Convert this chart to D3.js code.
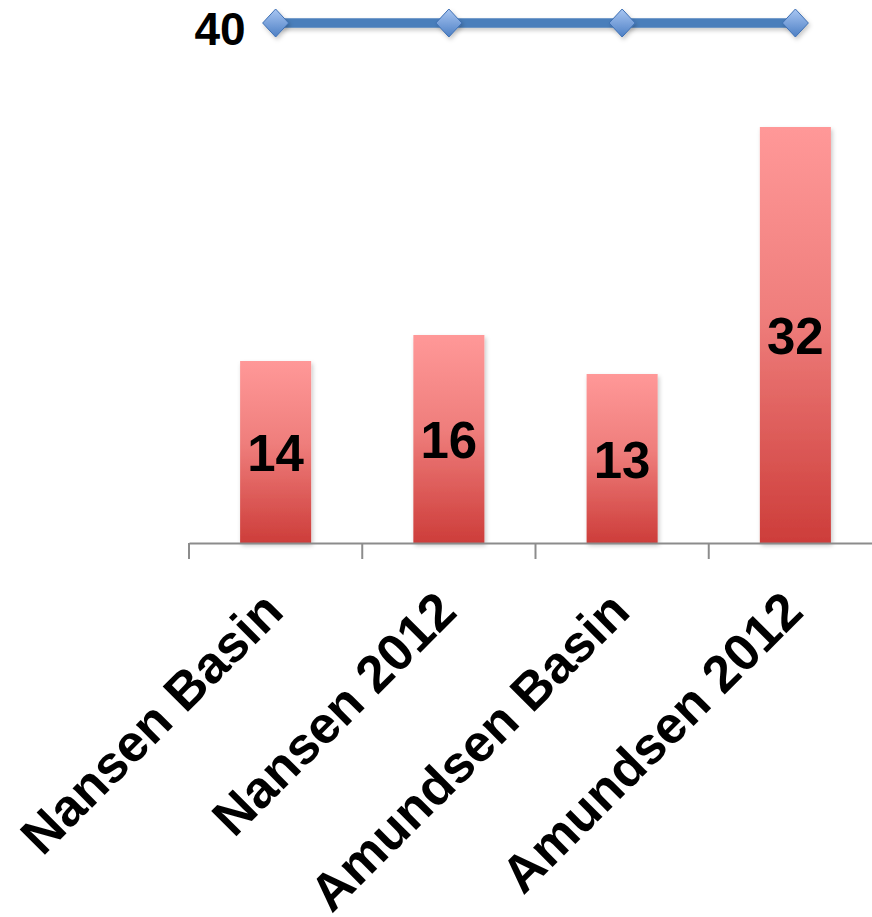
<!DOCTYPE html>
<html>
<head>
<meta charset="utf-8">
<script src="https://cdn.jsdelivr.net/npm/d3@7"></script>
<style>
  html, body { margin: 0; padding: 0; background: #fff; }
  svg { display: block; }
  text { font-family: "Liberation Sans", Arial, sans-serif; font-weight: bold; fill: #000; }
</style>
</head>
<body>
<script>
const categories = ["Nansen Basin", "Nansen 2012", "Amundsen Basin", "Amundsen 2012"];
const barValues = [14, 16, 13, 32];
const lineValues = [40, 40, 40, 40];
const lineLabel = "40";

const W = 872, H = 917;
const svg = d3.select("body").append("svg").attr("width", W).attr("height", H);

const defs = svg.append("defs");
const grad = defs.append("linearGradient").attr("id", "barGrad")
  .attr("x1", 0).attr("y1", 0).attr("x2", 0).attr("y2", 1);
grad.append("stop").attr("offset", "0%").attr("stop-color", "#ff9898");
grad.append("stop").attr("offset", "45%").attr("stop-color", "#ef7e7c");
grad.append("stop").attr("offset", "100%").attr("stop-color", "#cd3d3a");

const dgrad = defs.append("linearGradient").attr("id", "diaGrad")
  .attr("x1", 0).attr("y1", 0).attr("x2", 0).attr("y2", 1);
dgrad.append("stop").attr("offset", "0%").attr("stop-color", "#a9c6f2");
dgrad.append("stop").attr("offset", "100%").attr("stop-color", "#4c7fc4");

const shadow = defs.append("filter").attr("id", "shadow")
  .attr("filterUnits", "userSpaceOnUse")
  .attr("x", -W).attr("y", -H).attr("width", 3 * W).attr("height", 3 * H);
shadow.append("feDropShadow").attr("dx", 1.5).attr("dy", 2.5).attr("stdDeviation", 2)
  .attr("flood-color", "#000").attr("flood-opacity", 0.22);

const x = d3.scaleBand().domain(categories).range([189, 882]).padding(0);
const y = d3.scaleLinear().domain([0, 40]).range([543, 23]);
const barW = x.bandwidth() * 0.41;
const cx = d => x(d) + x.bandwidth() / 2;

// bars
svg.append("g").selectAll("rect").data(categories).join("rect")
  .attr("x", d => cx(d) - barW / 2)
  .attr("y", (d, i) => y(barValues[i]))
  .attr("width", barW)
  .attr("height", (d, i) => y(0) - y(barValues[i]))
  .attr("fill", "url(#barGrad)")
  .attr("filter", "url(#shadow)");

// axis
const axis = d3.axisBottom(x).tickSize(16).tickFormat("").tickSizeOuter(0);
const gAxis = svg.append("g").attr("transform", `translate(0,${y(0)})`).call(axis);
gAxis.select(".domain").attr("stroke", "#8c8c8c").attr("stroke-width", 2);
gAxis.selectAll(".tick").attr("transform", d => `translate(${x(d)},0)`);
gAxis.selectAll(".tick line").attr("stroke", "#8c8c8c").attr("stroke-width", 2);
gAxis.selectAll(".tick text").remove();

// value labels
svg.append("g").selectAll("text").data(categories).join("text")
  .attr("x", d => cx(d))
  .attr("y", (d, i) => (y(barValues[i]) + y(0)) / 2 + 19)
  .attr("text-anchor", "middle")
  .style("font-size", "51px")
  .text((d, i) => barValues[i]);

// category labels (rotated)
svg.append("g").selectAll("text").data(categories).join("text")
  .attr("transform", d => `translate(${cx(d) + 10},614) rotate(-45)`)
  .attr("text-anchor", "end")
  .style("font-size", "52px")
  .text(d => d);

// line series
const line = d3.line().x(d => cx(d.c)).y(d => y(d.v));
const pts = categories.map((c, i) => ({ c, v: lineValues[i] }));
svg.append("path").datum(pts)
  .attr("d", line)
  .attr("fill", "none")
  .attr("stroke", "#4a7ebb")
  .attr("stroke-width", 9.5)
  .attr("filter", "url(#shadow)");

const diamondPath = (hw, hh) => {
  const p = d3.path();
  p.moveTo(0, -hh); p.lineTo(hw, 0); p.lineTo(0, hh); p.lineTo(-hw, 0); p.closePath();
  return p.toString();
};
svg.append("g").selectAll("path").data(pts).join("path")
  .attr("transform", d => `translate(${cx(d.c)},${y(d.v)})`)
  .attr("d", diamondPath(13, 14))
  .attr("fill", "url(#diaGrad)")
  .attr("stroke", "#3d6fb3")
  .attr("stroke-width", 1)
  .attr("filter", "url(#shadow)");

// line data label
svg.append("text")
  .attr("x", cx(categories[0]) - 30)
  .attr("y", y(lineValues[0]) + 22)
  .attr("text-anchor", "end")
  .style("font-size", "46px")
  .text(lineLabel);
</script>
</body>
</html>
